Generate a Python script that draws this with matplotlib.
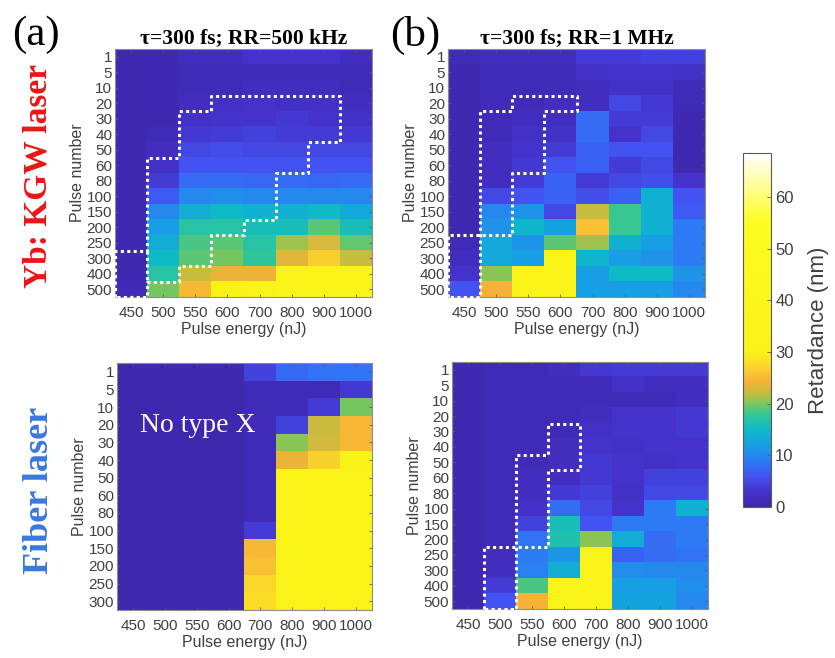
import numpy as np
import matplotlib
matplotlib.use("Agg")
import matplotlib.pyplot as plt
from matplotlib.colors import LinearSegmentedColormap

plt.rcParams["font.family"] = ["Liberation Sans", "DejaVu Sans"]

# ---------------------------------------------------------------- data
energies = ["450", "500", "550", "600", "700", "800", "900", "1000"]
pulses_16 = ["1", "5", "10", "20", "30", "40", "50", "60", "80", "100",
             "150", "200", "250", "300", "400", "500"]
pulses_14 = ["1", "5", "10", "20", "30", "40", "50", "60", "80", "100",
             "150", "200", "250", "300"]

# Retardance (nm), rows = pulse number, columns = pulse energy
yb_500k = [
    [1.0, 1.0, 2.0, 2.0, 3.0, 3.0, 3.0, 2.0],
    [1.0, 1.0, 1.5, 1.5, 1.5, 1.5, 1.5, 1.5],
    [1.0, 1.0, 1.5, 1.5, 2.0, 2.0, 2.0, 1.5],
    [1.0, 1.0, 2.0, 2.5, 3.0, 2.5, 2.5, 2.0],
    [1.0, 1.0, 2.5, 3.0, 3.0, 3.5, 3.0, 2.5],
    [1.0, 1.5, 3.5, 4.0, 4.5, 4.0, 4.0, 3.5],
    [1.0, 2.0, 5.0, 5.5, 5.0, 5.0, 5.0, 5.0],
    [1.0, 2.5, 6.0, 6.0, 6.0, 6.0, 6.0, 6.0],
    [1.0, 4.0, 8.0, 8.0, 7.5, 8.0, 7.5, 8.0],
    [1.0, 6.5, 10.0, 10.5, 10.0, 10.0, 10.0, 10.0],
    [1.0, 10.0, 13.5, 15.0, 14.0, 14.0, 15.0, 13.0],
    [1.0, 12.0, 17.0, 17.0, 16.0, 16.0, 19.0, 16.0],
    [1.0, 13.5, 18.5, 19.0, 17.0, 21.0, 23.0, 19.5],
    [1.0, 15.0, 19.0, 20.0, 17.5, 23.5, 26.5, 22.0],
    [1.0, 17.0, 22.0, 24.0, 24.0, 33.0, 33.0, 32.0],
    [1.5, 20.0, 25.0, 30.0, 33.0, 36.0, 36.0, 36.0],
]

yb_1m = [
    [1.5, 2.0, 2.0, 2.0, 4.0, 4.0, 4.5, 4.5],
    [1.0, 1.5, 1.5, 1.5, 2.5, 3.0, 3.0, 2.5],
    [1.0, 1.5, 1.5, 1.5, 2.0, 2.5, 2.5, 1.5],
    [1.0, 1.5, 1.5, 2.0, 2.0, 5.0, 3.5, 1.5],
    [1.0, 1.5, 2.0, 2.0, 8.0, 4.0, 4.0, 1.0],
    [1.0, 1.5, 2.5, 2.5, 8.0, 3.0, 5.0, 1.0],
    [1.0, 2.0, 3.0, 4.0, 7.0, 6.0, 6.0, 1.0],
    [1.0, 2.0, 3.5, 6.0, 7.0, 4.0, 5.0, 1.0],
    [1.0, 2.0, 4.0, 7.0, 4.0, 5.0, 5.5, 3.0],
    [1.0, 5.0, 6.0, 7.0, 5.5, 7.0, 14.0, 6.0],
    [1.0, 10.0, 11.0, 5.0, 22.0, 18.0, 14.0, 6.5],
    [1.0, 11.0, 14.5, 12.5, 25.5, 18.0, 14.0, 9.0],
    [1.5, 13.0, 11.0, 19.0, 21.0, 14.0, 12.0, 9.0],
    [2.0, 13.0, 12.0, 32.0, 14.5, 12.0, 11.0, 9.0],
    [3.0, 20.5, 32.0, 32.0, 12.0, 15.0, 15.0, 11.0],
    [6.0, 24.5, 32.0, 32.0, 12.0, 12.0, 12.0, 10.0],
]

fiber_500k = [
    [0.8, 0.8, 0.8, 0.8, 4.5, 7.5, 8.5, 8.5],
    [0.8, 0.8, 0.8, 0.8, 1.5, 1.5, 1.5, 3.5],
    [0.8, 0.8, 0.8, 0.8, 1.5, 1.5, 4.0, 20.0],
    [0.8, 0.8, 0.8, 0.8, 1.5, 4.5, 22.0, 25.0],
    [0.8, 0.8, 0.8, 0.8, 1.5, 20.5, 22.5, 25.0],
    [0.8, 0.8, 0.8, 0.8, 1.5, 24.0, 27.0, 30.0],
    [0.8, 0.8, 0.8, 0.8, 1.5, 33.0, 32.0, 33.0],
    [0.8, 0.8, 0.8, 0.8, 1.5, 33.0, 33.0, 33.0],
    [0.8, 0.8, 0.8, 0.8, 1.5, 33.0, 33.0, 33.0],
    [0.8, 0.8, 0.8, 0.8, 4.0, 33.0, 33.0, 33.0],
    [0.8, 0.8, 0.8, 0.8, 25.0, 33.0, 33.0, 33.0],
    [0.8, 0.8, 0.8, 0.8, 25.5, 33.0, 33.0, 33.0],
    [0.8, 0.8, 0.8, 0.8, 27.5, 33.0, 33.0, 33.0],
    [0.8, 0.8, 0.8, 0.8, 28.0, 33.0, 33.0, 33.0],
]

fiber_1m = [
    [1.0, 1.5, 1.5, 2.0, 3.5, 4.0, 4.0, 4.0],
    [1.0, 1.5, 1.5, 1.5, 1.5, 2.5, 2.0, 2.0],
    [1.0, 1.5, 1.5, 1.5, 1.5, 1.5, 1.5, 2.0],
    [1.0, 1.5, 1.5, 1.5, 2.0, 3.0, 3.0, 3.5],
    [1.0, 1.5, 1.5, 1.5, 2.5, 3.0, 3.0, 3.5],
    [1.0, 1.5, 1.5, 2.0, 3.0, 2.5, 3.0, 3.0],
    [1.0, 1.5, 1.5, 2.0, 3.5, 3.0, 2.5, 3.0],
    [1.0, 1.5, 2.0, 2.0, 3.5, 3.0, 4.5, 4.5],
    [1.0, 1.5, 2.0, 3.5, 4.5, 2.5, 5.0, 5.0],
    [1.0, 1.5, 2.5, 8.0, 5.0, 3.0, 9.0, 14.0],
    [1.0, 1.5, 4.5, 16.0, 6.0, 9.0, 9.0, 9.0],
    [1.0, 1.5, 8.5, 16.5, 20.5, 13.5, 8.0, 9.0],
    [1.0, 2.0, 9.0, 11.0, 32.0, 7.0, 8.0, 8.5],
    [1.0, 2.0, 9.5, 13.5, 32.0, 10.5, 10.0, 10.0],
    [1.0, 4.0, 18.5, 32.0, 32.0, 12.0, 12.0, 10.5],
    [1.0, 6.0, 24.5, 32.0, 32.0, 12.5, 12.5, 10.0],
]

# Type-X regions: cell-corner vertices (energy index, pulse index)
yb_500k_region = [
    [(0, 16), (0, 13), (1, 13), (1, 7), (2, 7), (2, 4), (3, 4), (3, 3),
     (7, 3), (7, 6), (6, 6), (6, 8), (5, 8), (5, 11), (4, 11), (4, 12),
     (3, 12), (3, 14), (2, 14), (2, 15), (1, 15), (1, 16), (0, 16)],
    [(1, 13), (1, 15)],
]
yb_1m_region = [
    [(0, 16), (0, 12), (2, 12), (2, 8), (3, 8), (3, 4), (4, 4), (4, 3),
     (2, 3), (2, 4), (1, 4), (1, 16), (0, 16)],
]
fiber_1m_region = [
    [(1, 16), (1, 12), (3, 12), (3, 7), (4, 7), (4, 4), (3, 4), (3, 6),
     (2, 6), (2, 16), (1, 16)],
]

VMAX = 68.5
cmap_stops = [
    (0.0, (0.24, 0.15, 0.66)),
    (3.0, (0.27, 0.20, 0.80)),
    (6.0, (0.26, 0.33, 0.95)),
    (9.0, (0.17, 0.49, 0.96)),
    (12.0, (0.09, 0.63, 0.89)),
    (15.0, (0.05, 0.73, 0.78)),
    (18.0, (0.22, 0.78, 0.57)),
    (20.0, (0.48, 0.78, 0.36)),
    (22.0, (0.78, 0.74, 0.24)),
    (24.5, (0.97, 0.70, 0.22)),
    (27.0, (0.98, 0.83, 0.17)),
    (30.0, (0.98, 0.95, 0.09)),
    (55.0, (0.99, 0.99, 0.12)),
    (VMAX, (1.0, 1.0, 1.0)),
]
cmap = LinearSegmentedColormap.from_list(
    "retardance", [(v / VMAX, c) for v, c in cmap_stops])

# ---------------------------------------------------------------- figure
W, H = 835, 658
fig = plt.figure(figsize=(W / 100, H / 100), dpi=100)


def rect(x0, y0, x1, y1):
    return [x0 / W, 1 - y1 / H, (x1 - x0) / W, (y1 - y0) / H]


TXT = (0.25, 0.25, 0.25)


def panel(box, data, rows, outlines=(), title=None):
    ax = fig.add_axes(rect(*box))
    arr = np.array(data)
    nr, nc = arr.shape
    im = ax.imshow(arr, cmap=cmap, vmin=0, vmax=VMAX, aspect="auto",
                   interpolation="nearest", extent=(0, nc, nr, 0))
    ax.set_xticks(np.arange(nc) + 0.5, energies)
    ax.set_yticks(np.arange(nr) + 0.5, rows)
    ax.tick_params(direction="in", length=2.5, width=0.6, top=True,
                   right=True, labelsize=11, labelcolor=TXT, color="0.35")
    ax.tick_params(axis="x", pad=6.5)
    ax.tick_params(axis="y", pad=2)
    for s in ax.spines.values():
        s.set_color("0.55")
        s.set_linewidth(0.8)
    ax.set_xlabel("Pulse energy (nJ)", fontsize=11.5, color=TXT, labelpad=1.5)
    ax.set_ylabel("Pulse number", fontsize=11.5, color=TXT, labelpad=1)
    for line in outlines:
        xs, ys = zip(*line)
        ax.plot(xs, ys, color="white", lw=2.2, linestyle=(0, (1, 1.1)),
                dash_capstyle="butt", clip_on=False, zorder=5)
    ax.set_xlim(0, nc)
    ax.set_ylim(nr, 0)
    if title:
        ax.set_title(title, fontfamily="Liberation Serif", fontweight="bold",
                     fontsize=15.5, pad=4)
    return ax, im


ax1, im = panel((115, 49, 372, 297), yb_500k, pulses_16, yb_500k_region,
                "τ=300 fs; RR=500 kHz")
ax2, _ = panel((448, 49, 705, 297), yb_1m, pulses_16, yb_1m_region,
               "τ=300 fs; RR=1 MHz")
ax3, _ = panel((117, 363, 372, 610), fiber_500k, pulses_14)
ax4, _ = panel((452, 362, 708, 609), fiber_1m, pulses_16, fiber_1m_region)

ax3.text(0.315, 0.745, "No type X", transform=ax3.transAxes, color="white",
         fontfamily="Liberation Serif", fontsize=20, ha="center",
         va="center")

# panel letters and laser labels
fig.text(36 / W, 1 - 35 / H, "(a)", fontfamily="Liberation Serif",
         fontsize=31, ha="center", va="center")
fig.text(415 / W, 1 - 35 / H, "(b)", fontfamily="Liberation Serif",
         fontsize=31, ha="center", va="center")
fig.text(38 / W, 1 - 176 / H, "Yb: KGW laser", fontfamily="Liberation Serif",
         fontweight="bold", fontsize=24, color=(0.93, 0.08, 0.08),
         rotation=90, ha="center", va="center")
fig.text(39 / W, 1 - 490 / H, "Fiber laser", fontfamily="Liberation Serif",
         fontweight="bold", fontsize=26, color=(0.22, 0.47, 0.88),
         rotation=90, ha="center", va="center")

# colour bar
cax = fig.add_axes(rect(743, 153, 771, 507))
cb = fig.colorbar(im, cax=cax, ticks=range(0, 70, 10))
cb.outline.set_edgecolor("0.35")
cb.outline.set_linewidth(0.8)
cax.tick_params(labelsize=12, labelcolor=TXT, direction="in", length=3,
                width=0.6, color="0.35", pad=3)
cb.set_label("Retardance (nm)", fontsize=16, color=TXT, labelpad=10)

fig.savefig("out.png", dpi=100)
